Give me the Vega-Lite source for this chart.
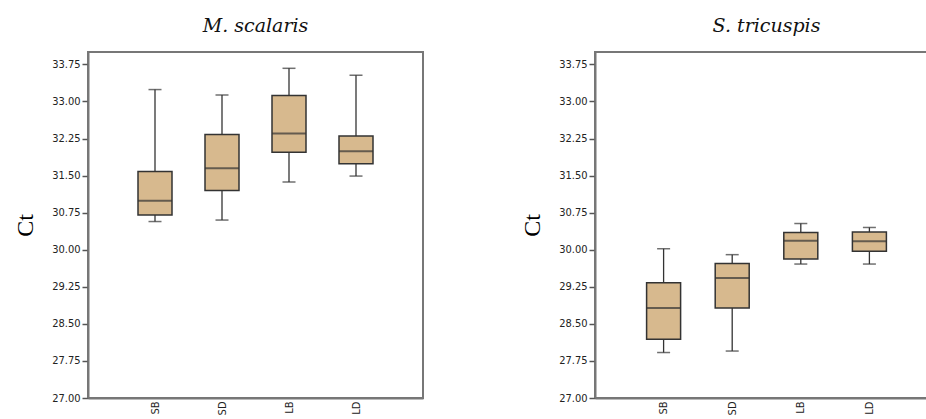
{
  "$schema": "https://vega.github.io/schema/vega-lite/v6.json",
  "background": "white",
  "padding": {"left": 12, "top": 16, "right": 0, "bottom": 0},
  "spacing": 95,
  "config": {
    "view": {"stroke": "#777777", "strokeWidth": 2},
    "title": {"font": "DejaVu Serif", "fontStyle": "italic", "fontWeight": "normal", "fontSize": 19, "color": "#111111", "offset": 16},
    "axis": {
      "labelFont": "DejaVu Sans Condensed, Liberation Sans", "labelFontSize": 11, "labelColor": "#222222",
      "domainColor": "#777777", "domainWidth": 2, "tickColor": "#555555", "tickWidth": 1.5, "grid": false,
      "titleFont": "Liberation Serif", "titleFontSize": 24, "titleFontWeight": "normal", "titleColor": "#000000"
    }
  },
  "datasets": {
    "ms": [
      {"group": "SB", "min": 30.57, "q1": 30.70, "median": 30.99, "q3": 31.58, "max": 33.24},
      {"group": "SD", "min": 30.60, "q1": 31.20, "median": 31.65, "q3": 32.33, "max": 33.13},
      {"group": "LB", "min": 31.37, "q1": 31.97, "median": 32.35, "q3": 33.12, "max": 33.67},
      {"group": "LD", "min": 31.49, "q1": 31.74, "median": 31.99, "q3": 32.30, "max": 33.53}
    ],
    "st": [
      {"group": "SB", "min": 27.92, "q1": 28.19, "median": 28.82, "q3": 29.33, "max": 30.02},
      {"group": "SD", "min": 27.95, "q1": 28.82, "median": 29.43, "q3": 29.72, "max": 29.90},
      {"group": "LB", "min": 29.71, "q1": 29.81, "median": 30.18, "q3": 30.35, "max": 30.53},
      {"group": "LD", "min": 29.71, "q1": 29.97, "median": 30.17, "q3": 30.36, "max": 30.45}
    ]
  },
  "hconcat": [
    {
      "title": "M. scalaris",
      "width": 335,
      "height": 346,
      "data": {"name": "ms"},
      "encoding": {
        "x": {"field": "group", "type": "nominal", "sort": ["SB", "SD", "LB", "LD"], "scale": {"type": "point", "padding": 1},
              "axis": {"title": null, "labelAngle": 270, "ticks": false, "labelPadding": 3}}
      },
      "layer": [
        {"mark": {"type": "rule", "color": "#333333", "strokeWidth": 1.3},
         "encoding": {"y": {"field": "min", "type": "quantitative", "scale": {"domain": [27, 34.0], "nice": false, "zero": false},
                            "axis": {"title": "Ct", "values": [27, 27.75, 28.5, 29.25, 30, 30.75, 31.5, 32.25, 33, 33.75], "format": ".2f", "tickSize": 6, "labelPadding": 2, "titlePadding": 14, "labelOverlap": false}},
                      "y2": {"field": "max"}}},
        {"mark": {"type": "tick", "color": "#333333", "size": 13, "thickness": 1.5}, "encoding": {"y": {"field": "min", "type": "quantitative",
                            "axis": {"title": "Ct", "values": [27, 27.75, 28.5, 29.25, 30, 30.75, 31.5, 32.25, 33, 33.75], "format": ".2f", "tickSize": 6, "labelPadding": 2, "titlePadding": 14, "labelOverlap": false}}}},
        {"mark": {"type": "tick", "color": "#333333", "size": 13, "thickness": 1.5}, "encoding": {"y": {"field": "max", "type": "quantitative",
                            "axis": {"title": "Ct", "values": [27, 27.75, 28.5, 29.25, 30, 30.75, 31.5, 32.25, 33, 33.75], "format": ".2f", "tickSize": 6, "labelPadding": 2, "titlePadding": 14, "labelOverlap": false}}}},
        {"mark": {"type": "bar", "size": 34, "fill": "#d7b98e", "stroke": "#333333", "strokeWidth": 1.5},
         "encoding": {"y": {"field": "q1", "type": "quantitative",
                            "axis": {"title": "Ct", "values": [27, 27.75, 28.5, 29.25, 30, 30.75, 31.5, 32.25, 33, 33.75], "format": ".2f", "tickSize": 6, "labelPadding": 2, "titlePadding": 14, "labelOverlap": false}}, "y2": {"field": "q3"}}},
        {"mark": {"type": "tick", "color": "#333333", "size": 34, "thickness": 2}, "encoding": {"y": {"field": "median", "type": "quantitative",
                            "axis": {"title": "Ct", "values": [27, 27.75, 28.5, 29.25, 30, 30.75, 31.5, 32.25, 33, 33.75], "format": ".2f", "tickSize": 6, "labelPadding": 2, "titlePadding": 14, "labelOverlap": false}}}}
      ]
    },
    {
      "title": "S. tricuspis",
      "width": 343,
      "height": 346,
      "data": {"name": "st"},
      "encoding": {
        "x": {"field": "group", "type": "nominal", "sort": ["SB", "SD", "LB", "LD"], "scale": {"type": "point", "padding": 1},
              "axis": {"title": null, "labelAngle": 270, "ticks": false, "labelPadding": 3}}
      },
      "layer": [
        {"mark": {"type": "rule", "color": "#333333", "strokeWidth": 1.3},
         "encoding": {"y": {"field": "min", "type": "quantitative", "scale": {"domain": [27, 34.0], "nice": false, "zero": false},
                            "axis": {"title": "Ct", "values": [27, 27.75, 28.5, 29.25, 30, 30.75, 31.5, 32.25, 33, 33.75], "format": ".2f", "tickSize": 6, "labelPadding": 2, "titlePadding": 14, "labelOverlap": false}},
                      "y2": {"field": "max"}}},
        {"mark": {"type": "tick", "color": "#333333", "size": 13, "thickness": 1.5}, "encoding": {"y": {"field": "min", "type": "quantitative",
                            "axis": {"title": "Ct", "values": [27, 27.75, 28.5, 29.25, 30, 30.75, 31.5, 32.25, 33, 33.75], "format": ".2f", "tickSize": 6, "labelPadding": 2, "titlePadding": 14, "labelOverlap": false}}}},
        {"mark": {"type": "tick", "color": "#333333", "size": 13, "thickness": 1.5}, "encoding": {"y": {"field": "max", "type": "quantitative",
                            "axis": {"title": "Ct", "values": [27, 27.75, 28.5, 29.25, 30, 30.75, 31.5, 32.25, 33, 33.75], "format": ".2f", "tickSize": 6, "labelPadding": 2, "titlePadding": 14, "labelOverlap": false}}}},
        {"mark": {"type": "bar", "size": 34, "fill": "#d7b98e", "stroke": "#333333", "strokeWidth": 1.5},
         "encoding": {"y": {"field": "q1", "type": "quantitative",
                            "axis": {"title": "Ct", "values": [27, 27.75, 28.5, 29.25, 30, 30.75, 31.5, 32.25, 33, 33.75], "format": ".2f", "tickSize": 6, "labelPadding": 2, "titlePadding": 14, "labelOverlap": false}}, "y2": {"field": "q3"}}},
        {"mark": {"type": "tick", "color": "#333333", "size": 34, "thickness": 2}, "encoding": {"y": {"field": "median", "type": "quantitative",
                            "axis": {"title": "Ct", "values": [27, 27.75, 28.5, 29.25, 30, 30.75, 31.5, 32.25, 33, 33.75], "format": ".2f", "tickSize": 6, "labelPadding": 2, "titlePadding": 14, "labelOverlap": false}}}}
      ]
    }
  ]
}
